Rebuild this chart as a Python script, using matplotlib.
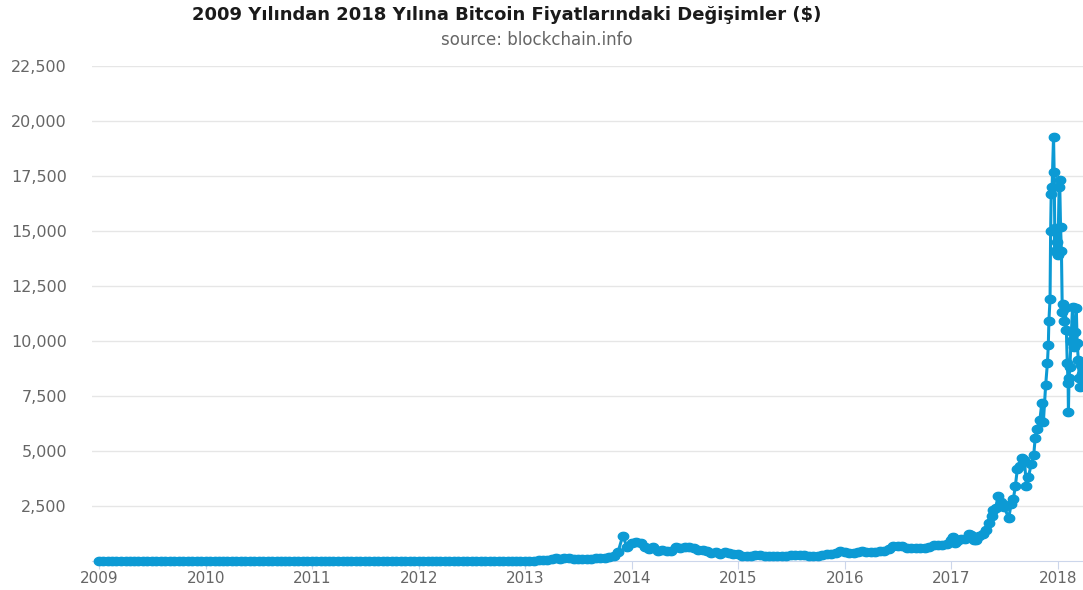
import numpy as np
import pandas as pd
import matplotlib
matplotlib.use('Agg')
import matplotlib.pyplot as plt
import matplotlib.dates as mdates
from matplotlib.path import Path
from matplotlib.ticker import FixedLocator, FuncFormatter

title = '2009 Yılından 2018 Yılına Bitcoin Fiyatlarındaki Değişimler ($)'
subtitle = 'source: blockchain.info'

# semi-monthly prices (1st and 15th) 2009-2016, USD
early_dates = pd.date_range('2009-01-01', '2016-12-15', freq='SMS')
p2009 = [0] * 24
p2010 = [0] * 14 + [0.05, 0.07, 0.07, 0.06, 0.06, 0.06, 0.1, 0.2, 0.25, 0.2]
p2011 = [0.3, 0.4, 0.9, 1, 0.9, 0.8, 0.8, 1.2, 3, 7, 9, 19,
         16, 14, 13, 11, 8, 5, 5, 3.5, 3.2, 2.5, 3, 3.5]
p2012 = [5.3, 6.5, 5.8, 4.5, 4.9, 5.3, 4.9, 5.1, 5, 5.1, 5.3, 6.5,
         6.7, 8.8, 9.5, 11, 10.3, 12, 12.2, 11.8, 10.8, 11.8, 12.5, 13.3]
p2013 = [13.5, 15, 20, 27, 34, 47, 93, 150, 110, 115, 129, 101,
         88, 96, 104, 110, 130, 140, 124, 160, 205, 420, 1150, 650]
p2014 = [800, 850, 820, 650, 560, 620, 470, 500, 450, 450, 650, 590,
         640, 620, 590, 500, 480, 470, 380, 390, 330, 390, 380, 330]
p2015 = [315, 210, 230, 235, 260, 285, 245, 220, 235, 235, 225, 235,
         260, 285, 280, 260, 228, 230, 237, 255, 325, 335, 378, 445]
p2016 = [430, 385, 370, 400, 435, 415, 415, 430, 450, 455, 535, 690,
         675, 665, 610, 570, 575, 610, 610, 640, 730, 710, 750, 780]
early_prices = p2009 + p2010 + p2011 + p2012 + p2013 + p2014 + p2015 + p2016

# denser sampling 2017-2018
late_dates = [
    '2017-01-01', '2017-01-05', '2017-01-12', '2017-01-20', '2017-02-01', '2017-02-15',
    '2017-03-01', '2017-03-10', '2017-03-18', '2017-03-25', '2017-04-05', '2017-04-20',
    '2017-05-01', '2017-05-10', '2017-05-20', '2017-05-25', '2017-06-01', '2017-06-11',
    '2017-06-20', '2017-07-01', '2017-07-16', '2017-07-25', '2017-08-01', '2017-08-08',
    '2017-08-15', '2017-08-25', '2017-09-01', '2017-09-08', '2017-09-15', '2017-09-22',
    '2017-10-01', '2017-10-10', '2017-10-15', '2017-10-20', '2017-10-31', '2017-11-07',
    '2017-11-12', '2017-11-20', '2017-11-26', '2017-11-29', '2017-12-01', '2017-12-05',
    '2017-12-07', '2017-12-09', '2017-12-12', '2017-12-17', '2017-12-19', '2017-12-22',
    '2017-12-23', '2017-12-28', '2018-01-01', '2018-01-05', '2018-01-07', '2018-01-10',
    '2018-01-13', '2018-01-16', '2018-01-19', '2018-01-22', '2018-01-26', '2018-01-30',
    '2018-02-02', '2018-02-05', '2018-02-06', '2018-02-08', '2018-02-11', '2018-02-15',
    '2018-02-20', '2018-02-23', '2018-02-26', '2018-03-01', '2018-03-05', '2018-03-08',
    '2018-03-12', '2018-03-15', '2018-03-18', '2018-03-21', '2018-03-25', '2018-03-28',
]
late_prices = [
    960, 1100, 800, 900, 990, 1010,
    1220, 1190, 960, 970, 1130, 1240,
    1420, 1750, 2050, 2300, 2400, 2950,
    2700, 2450, 1950, 2600, 2800, 3400,
    4200, 4300, 4700, 4600, 3400, 3800,
    4400, 4800, 5600, 6000, 6400, 7200,
    6300, 8000, 9000, 9800, 10900, 11900,
    15000, 16700, 17000, 19290, 17700, 14100,
    15140, 14500, 13900, 17000, 17300, 15200,
    14100, 11300, 11700, 10900, 11500, 10500,
    9000, 8090, 6770, 8300, 8820, 10000,
    11550, 10360, 9730, 10400, 11500, 9900,
    9140, 8300, 7910, 8900, 8500, 8000,
]

y_ticks = [2500, 5000, 7500, 10000, 12500, 15000, 17500, 20000, 22500]

dates = list(early_dates) + list(pd.to_datetime(late_dates))
prices = early_prices + late_prices

color = '#0c9ad4'
grey = '#666666'

# slightly wide oval marker, like the source screenshot
t = np.linspace(0, 2 * np.pi, 40)
oval = Path(np.column_stack([1.25 * np.cos(t), np.sin(t)]), closed=True)

fig = plt.figure(figsize=(10.83, 5.90), dpi=100)
ax = fig.add_axes([92 / 1083, 1 - 561 / 590, 1 - 92 / 1083, (561 - 66) / 590])

ax.plot(dates, prices, color=color, lw=2.2, marker=oval, ms=7.5, mec=color, mfc=color,
        clip_on=False, zorder=3)

ax.set_ylim(0, 22500)
ax.set_xlim(pd.Timestamp('2008-12-07'), pd.Timestamp('2018-03-28'))
ax.yaxis.set_major_locator(FixedLocator(y_ticks))
ax.yaxis.set_major_formatter(FuncFormatter(lambda v, p: f'{int(v):,}'))
ax.xaxis.set_major_locator(mdates.YearLocator())
ax.xaxis.set_major_formatter(mdates.DateFormatter('%Y'))

ax.grid(axis='y', color='#e6e6e6', lw=1)
ax.set_axisbelow(True)
for s in ['left', 'right', 'top']:
    ax.spines[s].set_visible(False)
ax.spines['bottom'].set_color('#ccd6eb')
ax.tick_params(axis='y', length=0, pad=18, labelsize=11.5, labelcolor=grey)
ax.tick_params(axis='x', length=6, color='#ccd6eb', pad=1, labelsize=11, labelcolor=grey)

fig.text(507 / 1083, 1 - 15 / 590, title, ha='center', va='center',
         fontsize=13, fontweight='bold', family='DejaVu Sans', color='#1a1a1a')
fig.text(537 / 1083, 1 - 40 / 590, subtitle, ha='center', va='center',
         fontsize=12, family='DejaVu Sans', color=grey)

fig.savefig('out.png', dpi=100)
